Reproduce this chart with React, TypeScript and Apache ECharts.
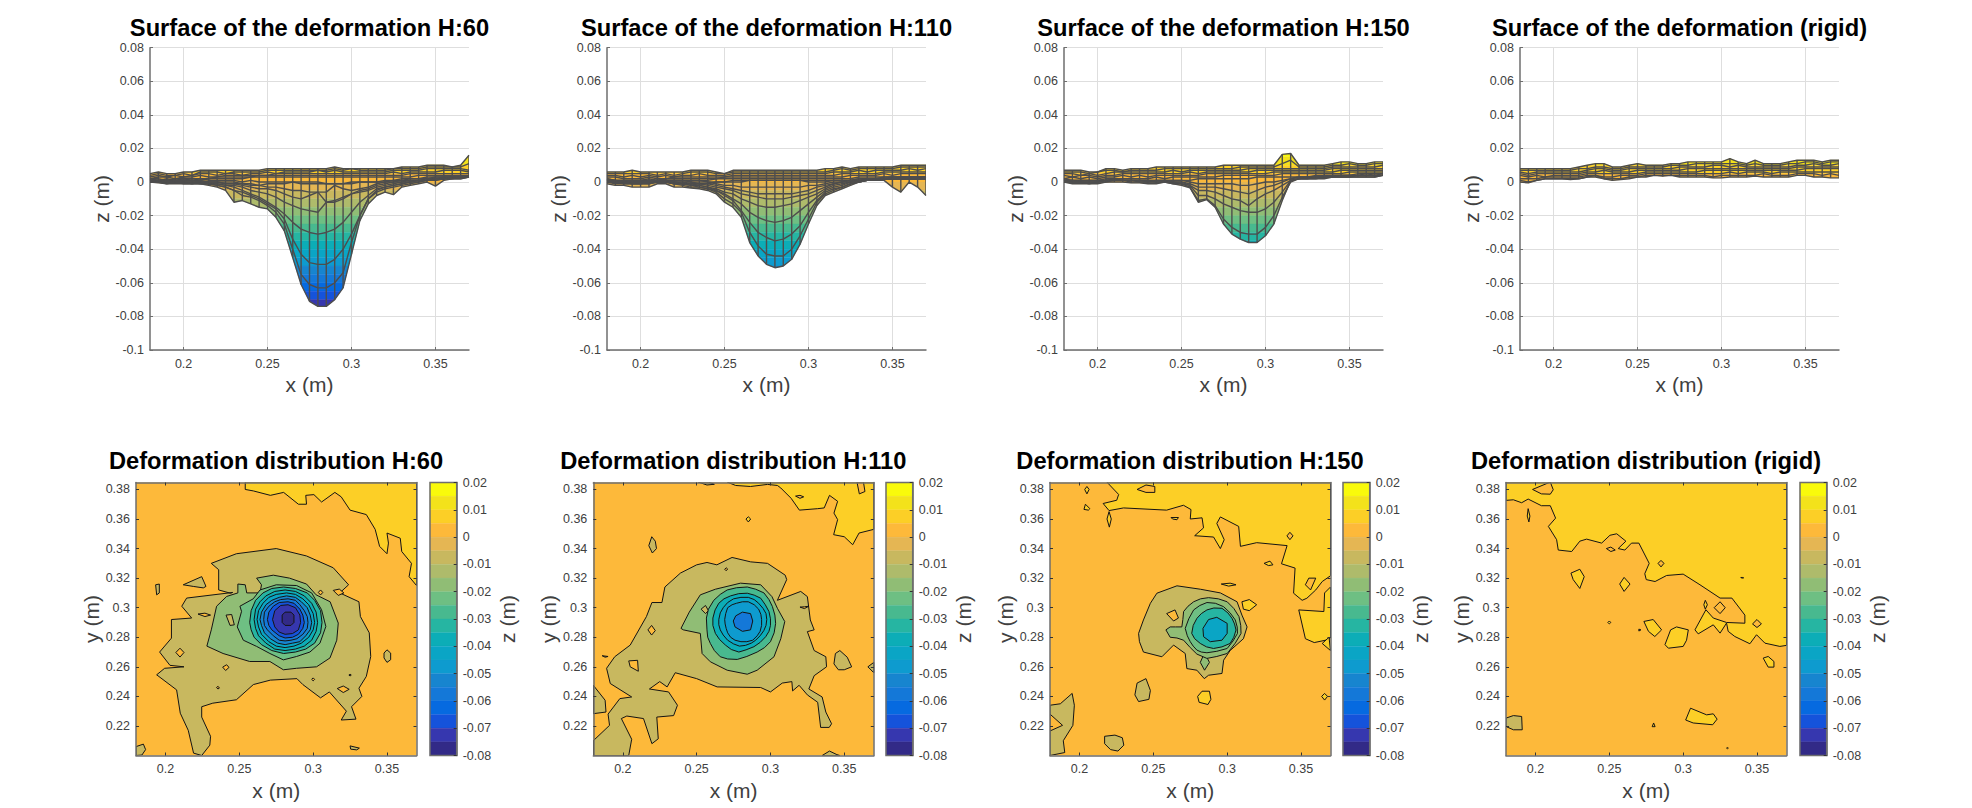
import React, { useEffect, useRef } from "react";
import * as echarts from "echarts";

// x positions of the measured mesh, millimetres
const xGridMm = [180,185,190,195,200,205,210,215,220,225,230,235,240,245,250,255,260,265,270,275,280,285,290,295,300,305,310,315,320,325,330,335,340,345,350,355,360,365,370];

// 20 colour bands of the colour bar, from +0.02 (top) down to -0.08 (bottom)
const bandColors = ["#F9FA0B","#F3E21B","#FCCF26","#FDB93A","#E5B653","#C8B85F","#AEBB6B","#90BD75","#6EBF83","#48B98F","#26B5A2","#0CADB7","#0AA5C5","#0E9BCF","#1785CF","#1478D8","#066AE0","#1553DB","#3637AF","#322A87"];
const bandStepsMm = [20,15,10,5,0,-5,-10,-15,-20,-25,-30,-35,-40,-45,-50,-55,-60,-65,-70,-75,-80];

const surfaceTitles = ["Surface of the deformation H:60","Surface of the deformation H:110","Surface of the deformation H:150","Surface of the deformation (rigid)"];
const contourTitles = ["Deformation distribution H:60","Deformation distribution H:110","Deformation distribution H:150","Deformation distribution (rigid)"];
const xTicks = [0.2,0.25,0.3,0.35];
const yTicks = [0.22,0.24,0.26,0.28,0.3,0.32,0.34,0.36,0.38];

// surface profiles: z in mm at each xGridMm, one list per mesh row
const surfaceH60 = [
[5,6,5,5,6,6,7,7,7,7,7,7,7,7,8,8,8,8,8,8,8,8,9,8,8,8,8,8,8,8,9,9,9,10,10,10,9,10,16],
[4,5,4,4,5,4,6,6,6,5,6,6,6,6,7,7,7,7,7,7,7,7,8,7,8,7,7,7,7,8,8,8,8,9,9,9,9,9,11],
[3,4,3,4,3,4,5,5,4,5,5,4,5,5,6,5,6,6,6,6,7,6,7,6,6,6,6,6,6,7,7,7,7,8,8,8,8,8,7],
[2,3,3,2,3,3,4,3,3,4,4,4,4,4,4,5,5,5,5,5,5,5,5,5,5,5,5,5,5,6,5,6,6,6,6,7,7,7,6],
[2,2,1,2,2,2,2,2,3,3,3,3,3,4,4,4,4,4,4,4,4,4,4,4,4,4,4,4,4,4,4,5,5,5,5,5,5,5,5],
[1,1,1,1,1,1,1,2,2,2,2,2,3,3,3,3,3,3,3,3,3,3,3,3,3,3,3,3,3,3,3,3,4,4,4,4,4,4,4],
[0,0,0,0,-1,-1,0,0,0,-1,-1,-1,-2,-2,-1,-1,-1,0,0,0,0,-1,-1,-1,0,0,0,0,0,1,2,2,2,3,3,3,3,3,3],
[2,1,2,1,2,1,2,1,1,1,1,0,1,0,0,0,0,0,-1,-1,-1,-1,-1,-1,-1,0,0,0,1,1,1,2,2,2,3,3,3,3,4],
[1,1,1,1,1,1,1,0,0,0,0,-1,-1,-2,-3,-3,-4,-5,-5,-6,-6,-6,-2,-4,-5,-4,-3,-1,0,0,1,1,1,2,2,3,3,3,4],
[1,1,1,1,1,1,0,0,0,-1,-1,-2,-3,-4,-4,-5,-7,-9,-10,-8,-6,-12,-12,-10,-7,-5,-4,-2,-1,0,0,1,1,1,2,2,3,3,3],
[1,0,1,0,0,0,0,-1,-1,-2,-2,-3,-5,-6,-7,-9,-12,-14,-16,-17,-18,-12,-11,-9,-7,-6,-5,-3,-2,-1,0,0,1,1,2,2,3,3,3],
[0,0,0,0,0,0,0,-1,-1,-2,-3,-5,-7,-9,-12,-15,-19,-24,-28,-30,-31,-30,-28,-24,-18,-12,-8,-4,-3,-2,-1,0,1,1,2,2,3,3,3],
[0,0,0,0,0,0,-1,-1,-2,-3,-5,-6,-8,-10,-13,-16,-22,-34,-43,-48,-49,-49,-46,-40,-31,-20,-10,-5,-3,-2,-1,0,0,1,1,2,2,3,3],
[0,0,-1,0,0,-1,-1,-1,-2,-3,-5,-8,-9,-11,-14,-18,-25,-40,-55,-61,-63,-63,-60,-54,-36,-20,-10,-6,-4,-3,-2,-1,0,1,1,2,2,2,3],
[0,-0.5,-1,-1,-1,-1,-1,-2,-3,-5,-12,-11,-13,-15,-16,-21,-29,-45,-61,-71,-74,-74,-70,-63,-43,-23,-13,-8,-6,-7.5,-3,-2,-1,0,-2.4,1,2,2,3],
];
const surfaceH110 = [
[6,6,6,7,6,6,6,6,6,6,7,7,7,6,5,7,7,7,7,7,7,7,7,7,7,7,8,8,9,8,9,9,9,9,9,10,10,10,10],
[5,5,5,5,5,5,4,5,4,5,6,6,6,5,5,6,6,6,6,6,6,6,6,6,6,6,6,7,8,7,8,8,8,8,8,9,9,9,9],
[4,4,3,4,3,4,3,4,3,4,4,5,4,4,4,5,5,5,5,5,5,5,5,5,5,5,5,6,6,6,7,6,7,7,7,7,8,7,8],
[3,3,2,2,2,3,2,2,3,3,3,3,3,3,3,4,4,4,4,4,4,4,4,4,4,4,4,4,5,5,5,5,5,6,6,6,6,6,6],
[2,1,1,1,1,2,1,2,2,2,2,2,2,2,3,3,3,3,3,3,3,3,3,3,3,3,3,3,3,4,4,4,4,5,4,5,5,5,5],
[1,0,0,0,0,0,1,1,1,1,1,1,1,2,2,2,2,2,2,2,2,2,2,2,2,2,2,2,2,2,3,3,3,3,3,3,3,3,3],
[0,-1,-1,-1,-1,0,0,0,0,-1,-1,-1,-1,0,0,1,1,1,1,1,1,1,1,1,1,1,1,1,1,1,2,2,2,2,2,2,2,2,2],
[2,1,1,1,1,1,1,1,1,1,1,1,0,0,0,0,0,1,1,1,1,1,1,1,0,0,0,1,1,1,2,2,2,3,3,3,3,3,3],
[1,1,1,1,1,1,1,1,1,1,0,0,0,-1,-2,-2,-3,-3,-3,-3,-3,-3,-3,-3,-2,-2,-1,0,0,1,1,2,2,2,3,3,3,3,3],
[1,1,0,0,0,1,1,1,0,0,0,-1,-1,-2,-3,-4,-5,-6,-7,-7,-7,-7,-7,-6,-5,-3,-2,-1,0,1,1,1,2,2,2,3,3,3,3],
[1,0,0,0,0,0,0,0,0,0,-1,-1,-2,-3,-4,-5,-7,-8,-9,-10,-10,-10,-9,-8,-7,-5,-3,-1,0,0,1,1,2,2,2,2,2,2,3],
[0,0,0,0,0,0,0,0,0,-1,-1,-2,-3,-4,-6,-7,-10,-12,-14,-15,-15,-14,-13,-11,-9,-7,-4,-2,-1,0,1,1,2,2,2,2,2,2,2],
[0,0,0,0,0,0,0,0,-1,-1,-2,-2,-3,-5,-7,-10,-13,-18,-21,-23,-24,-23,-21,-17,-13,-9,-5,-3,-2,0,0,1,1,2,2,2,2,2,2],
[0,0,0,-1,-1,-1,0,0,-1,-1,-2,-3,-4,-5,-8,-11,-17,-24,-30,-33,-35,-34,-31,-26,-18,-11,-6,-4,-3,-1,0,1,1,2,2,2,2,2,2],
[0,0,-1,-1,-1,-1,0,0,-1,-2,-3,-3,-4,-6,-10,-13,-18,-30,-38,-43,-44,-44,-40,-32,-22,-12,-7,-5,-3,-1,0,1,1,2,2,2,2,2,2],
[-1,-2,-2,-3,-3,-3,-1,-1,-3,-3,-3.5,-4,-5,-7,-12,-15,-21,-36,-44,-49,-51,-50,-46,-37,-25,-14,-8,-6,-4,-2,0,1,1,1,-3,-6,0,-3,-8],
];
const surfaceH150 = [
[7,7,7,6,6,8,8,7,8,8,8,9,9,9,9,9,9,9,9,10,10,10,10,10,10,10,16.5,17,10,10,10,10,11,12,12,11,11,12,12],
[6,6,6,5,6,7,7,6,7,7,7,7,8,8,8,8,8,8,8,8,8,9,9,9,9,9,11,13,9,9,9,9,10,10,11,10,10,11,11],
[5,5,4,5,4,5,6,6,6,6,6,6,6,7,6,7,7,7,7,7,7,7,8,8,8,8,8,8,8,8,8,8,9,9,9,9,9,9,10],
[4,3,4,4,3,4,4,5,5,5,5,5,5,5,5,6,5,6,6,6,6,6,6,7,7,7,7,7,7,7,7,7,8,8,8,8,8,8,8],
[2,3,2,3,2,3,3,4,3,4,3,4,4,4,4,4,4,5,5,5,5,5,5,5,5,6,6,6,6,6,6,6,6,7,7,7,7,7,7],
[1,1,1,1,1,2,2,2,2,2,2,3,2,3,3,3,3,3,3,4,4,4,4,4,4,4,5,5,5,5,5,5,5,5,6,6,6,6,6],
[0,0,0,-1,0,1,1,1,1,1,0,1,1,1,1,1,2,2,2,2,2,2,2,3,3,3,3,3,3,3,4,4,4,4,4,4,5,5,5],
[2,1,1,1,1,1,2,1,1,1,1,1,1,1,1,0,-1,-1,-1,-1,-1,-2,-2,-1,0,0,1,2,3,3,3,4,4,4,4,5,5,5,5],
[1,1,1,1,1,1,1,1,1,1,1,1,1,0,0,-1,-3,-3,-3,-4,-5,-6,-7,-5,-3,-2,0,2,3,3,3,3,4,4,4,4,4,5,5],
[1,1,0,0,0,1,1,1,1,1,1,0,0,0,0,-2,-5,-5,-6,-8,-10,-11,-14,-10,-7,-5,-2,1,2,3,3,3,3,4,4,4,4,4,5],
[1,0,0,0,0,1,1,1,1,0,0,0,0,0,-1,-2,-8,-8,-10,-13,-15,-17,-18,-18,-16,-12,-6,1,2,2,3,3,3,3,3,4,4,4,4],
[0,0,0,0,0,0,1,1,0,0,0,0,0,-1,-1,-3,-11,-10,-14,-22,-27,-30,-31,-31,-27,-20,-9,0,2,2,2,3,3,3,3,3,3,3,4],
[0,-1,-1,-1,-1,0,0,0,-0.5,-0.5,-1,-1,0,-1,-2,-3.4,-12,-10.5,-15,-25,-31,-34,-36,-36,-32,-25,-11,1,2,2,2,2,3,3,3,3,3,3,4],
];
const surfaceRigid = [
[8,8,8,8,8,8,8,9,10,11,11,9,9,10,11,10,10,10,11,11,12,12,12,12,12,14,12,11,13,11,11,11,12,13,13,13,12,13,13],
[7,7,7,7,7,7,7,8,8,9,9,8,8,9,9,9,9,9,10,10,10,11,11,11,11,11,11,10,11,10,10,10,11,11,12,12,11,12,12],
[6,5,6,6,6,6,6,6,7,8,8,7,7,8,8,8,8,8,8,9,9,9,9,10,10,9,10,9,9,9,9,9,9,10,10,11,10,10,11],
[5,4,5,5,5,5,5,5,6,6,7,6,6,6,7,7,7,7,7,7,8,8,8,8,8,8,8,8,8,8,8,8,8,9,9,9,9,9,9],
[4,3,4,3,4,4,4,4,5,5,5,5,5,5,5,6,6,6,6,6,6,6,7,7,7,7,7,7,7,7,7,7,7,7,8,8,8,8,8],
[2,2,2,3,3,3,3,3,4,4,3,3,4,4,4,5,5,5,5,5,5,5,5,5,5,6,5,6,6,6,5,6,6,6,6,6,6,6,6],
[1,0,1,2,2,2,2,2,3,3,2,2,2,3,3,4,4,4,4,4,4,4,4,3,4,4,4,4,4,5,4,4,4,5,5,5,4,5,4],
[0,-0.5,1,2,2,2,1.5,2,3,4,2,1,1.5,2,3,3,4,3.5,4,3,3,3,3,2.5,2.5,3,3,3,3.5,3,3,3,3,4,4,3,3,2.5,2.5],
];

// contour regions: [index into bandColors, outline as [x mm, y mm] pairs]
const contoursH60: any[] = [
[2,[[254,385],[254,380],[259.5,379],[271,376],[280,378],[290,370],[295.5,370],[295,376],[300.5,376.5],[305.7,371.5],[314.7,378],[319,375],[325,366],[336,363],[342,353],[345,341.5],[350,336.5],[351,343.7],[350,350.5],[359,347],[360,338],[366.6,330],[365,321],[370,315],[370,385]]],
[5,[[212,315.5],[224.5,321],[227.4,314.4],[225.6,313.4],[218.8,314.4]]],
[5,[[193.3,315.5],[195.8,316],[195.8,310],[194,308.7]]],
[5,[[350,271.5],[352.5,269.3],[352.5,264.8],[350,263],[348,266],[348,269.3]]],
[5,[[325,206.5],[331.3,205],[329.5,203.8],[325.4,204.3]]],
[5,[[180,206],[185,207.7],[186.5,204],[184,200.3],[180,200]]],
[5,[[231,330],[248,336.5],[275,340],[295.5,335],[313.6,327],[324,315.5],[318,310],[331,304],[332,294],[338,283],[339,267],[336,253.5],[331,245.5],[333,240],[326,233],[329,224.6],[319,224],[322.5,230],[311,243],[305,239],[293,248],[289,252],[271,251],[259.5,248],[248,237.7],[232,235.4],[224.5,233],[224.5,226],[230.5,213],[230,207],[224.5,200],[219,201.6],[215.4,217],[210,228.6],[207.5,244.4],[194,254.6],[199.4,259],[212.5,260],[203,261],[196,270],[204,279.4],[204,292],[217.7,293],[211,301],[214.3,306.5],[245.5,310.3],[244,309.8],[236,312],[236,325.7]]],
[3,[[209.8,272.6],[212.5,269.7],[209.8,266.6],[207,269.7]]],
[3,[[238.7,259.8],[241.4,261.4],[243,259.6],[240.7,257.5]]],
[3,[[234.5,246],[235.6,246.8],[236.5,245.6],[235.5,245]]],
[3,[[316.3,245.3],[320.4,247],[324.4,244.8],[320.4,242.6]]],
[3,[[300,252.5],[301,251.5],[300,250.5],[299,251.5]]],
[3,[[325,255],[325.8,254.4],[325,253.8],[324.2,254.4]]],
[3,[[303.5,310.3],[305,312],[306.5,310.3],[305,308.6]]],
[3,[[313.6,311.7],[317.7,312.6],[320.8,310],[317,308.3]]],
[3,[[222,295.7],[226.7,296.3],[230.5,295],[226.7,294]]],
[7,[[261.7,320],[273,322],[284,320],[295.5,316],[302,308.7],[311.5,304],[317,289.6],[316,278],[311.4,266],[302.3,260],[288.8,259],[279.8,258],[270.7,263.6],[257,263.6],[239,269],[228,274],[231,285],[234.6,301],[241.4,307.6],[249,310],[249,316],[254,315.5],[255,310],[264,310],[265,315.5]]],
[5,[[241,295],[244.8,295.4],[246.6,288.4],[243.7,288]]],
[8,[[248.6,287],[251.5,297.5],[250.4,301],[259.4,306],[264,312],[275,315.5],[288.8,315],[299,310],[305.7,298.6],[308.6,287.3],[304.6,276],[297.8,270],[288.8,267],[279.8,264.7],[270.7,269],[261.7,273.8],[252.7,278]]],
[10,[[257,290],[258,298],[261,305],[266,310],[272,313],[280,314],[288,313],[296,310],[301,305],[305,298],[306,290],[305,283],[301,276],[295,272],[288,270],[280,269],[272,271],[265,275],[260,280],[258,285]]],
[11,[[260,292],[261,299],[264,304],[268,308],[274,311],[281,312],[288,311],[294,308],[299,303],[302,297],[303,290],[302,284],[299,278],[294,274],[288,272],[281,271],[274,272],[268,276],[263,281],[261,286]]],
[12,[[262,292],[263,298],[266,303],[270,307],[275,309],[282,310],[288,309],[293,306],[297,302],[300,296],[301,290],[300,285],[297,280],[292,276],[287,274],[281,273],[275,274],[270,277],[265,282],[263,287]]],
[14,[[264,292],[265,297],[268,302],[272,305],[277,307],[282,308],[288,307],[292,304],[296,300],[298,295],[299,290],[298,285],[295,281],[291,277],[286,276],[281,275],[276,276],[271,279],[267,283],[265,288]]],
[15,[[266.5,292],[267,297],[270,301],[274,304],[278,305.5],[283,306],[288,305],[291,302],[294,298],[296,294],[296.5,290],[296,286],[293,282],[289,279],[285,278],[281,277.5],[277,278],[273,281],[269,285],[267,288]]],
[17,[[269,292],[270,297],[273,301],[277,303.5],[283,304],[287,303],[291,299],[293,295],[294,290],[293,286],[290,282],[286,280],[281,279.5],[277,281],[272,285],[270,288]]],
[18,[[272.5,292],[274,298],[278,301.5],[283,302],[288,300],[291,295],[291.5,290],[290,285],[286,282.5],[281,282],[277,283.5],[274,287]]],
[19,[[279,295],[281,297],[285,297],[287,295],[287,290],[285,288],[281,288],[279,290]]],
];
const contoursH110: any[] = [
[2,[[270.7,385],[276.4,382.7],[286.5,382],[298,383.4],[304.7,382.7],[307,381],[314,374],[319.6,366],[332,367],[336.4,367.5],[340,376],[345.5,372],[343,364],[345.5,359.6],[342.8,349.4],[350,348],[355.7,342.6],[360,350.5],[370,353],[370,385]]],
[3,[[358.6,385],[360.2,377],[364,378.6],[363,385]]],
[3,[[317,375.5],[320,376],[322.5,375],[320,374]]],
[5,[[251,385],[257,383],[262,383.5],[258,385]]],
[2,[[285,361.5],[286.6,360],[285,358],[283.4,360]]],
[5,[[219.6,348],[222,345],[222.8,340],[220,337],[217.6,342]]],
[5,[[186,267.5],[190,267],[188,266.5]]],
[5,[[180,247.5],[188,237.4],[188.6,229.4],[180,228.3]]],
[5,[[344,269],[347,271],[352,266.5],[355,260],[350,258],[346,258],[343,262]]],
[5,[[370,263],[366,260],[370,256]]],
[5,[[335,200],[340,203],[345,200.6],[347,200]]],
[5,[[189,259],[194.5,266.8],[205,274.7],[216,294],[219.7,303.5],[226.5,303.5],[228.5,314],[239,323.4],[250,329],[257,330.6],[263.7,329],[274,334],[286.6,331],[298,330],[310,322],[311,319],[304.7,305],[320.5,311],[325,307.5],[327,291.7],[329.6,285],[325,283.8],[329.6,271],[337.5,266.8],[338,260],[329.6,254],[326,245],[335,239.6],[337.5,229.4],[341.4,221.5],[339.8,219],[334,219],[332,236],[325,241],[319.4,247.5],[315,243.7],[314.5,250],[308,249],[300,243],[293.4,246],[263.9,246.4],[250,252],[235.5,256],[230,246.4],[225,250],[218,245],[231,243],[237,234],[234.4,227],[223,226],[224,211.3],[219.7,208],[214,225],[202.7,226.7],[199,225],[206,211],[204,200],[180,200],[180,210],[191,220.4],[190,228],[198,238.5],[206,239.6],[191.5,248.7]]],
[3,[[204,264],[210,264.4],[210.5,257],[205,260]]],
[3,[[219.5,288],[222,284.5],[219.5,281.5],[217,285]]],
[3,[[270,327],[271,326.2],[270,325],[269,326]]],
[3,[[320,300.4],[323,300.6],[326,301],[323,299.4]]],
[7,[[239.4,286],[245,297],[252.5,308.7],[262.7,312.5],[279.7,316.6],[293.4,315.5],[301,307.5],[304.7,299.6],[309.7,290.6],[307,279],[302.4,266.8],[291,257.7],[284.3,255],[270.7,257.7],[259.3,263.4],[253.7,269],[252.5,282.6],[241,285]]],
[5,[[253,299],[256,301.5],[258,298],[256,296]]],
[9,[[256.6,293],[258,299],[261.6,305],[266,309],[270.7,312],[277,313.5],[284.3,314],[290,312.5],[295.6,310],[299,305.5],[301.3,300.8],[303,295],[303.5,289.4],[302.5,283],[300,277],[296,273],[291,270],[284,267],[277.5,265],[271,265.3],[266,266.8],[262,271],[259.3,275.8],[257.5,280],[257,285]]],
[11,[[261,293],[262.5,298.5],[265,303],[268.5,306],[273,308],[278.5,309.5],[284.3,309.8],[289,308.5],[293.4,306.4],[296.5,302],[299,297.4],[300,292.5],[300,288],[299,284],[296.8,280.4],[293,276.5],[288.8,273.6],[283.5,271.5],[278.6,270],[273.5,271.7],[269.5,274.7],[265.5,278.5],[262.7,282.6],[261,288]]],
[12,[[265,292],[266,296.5],[268,300],[271,303.5],[275,306],[280,307],[285,307],[289,305.5],[292,303],[295,299.5],[297,296],[297.5,292],[297,288],[295.5,284.5],[293,281],[290,278],[287,276],[283,274.5],[279,274],[275,275.5],[271,278],[268,281.5],[266,285],[265,288.5]]],
[13,[[269,292],[269.7,296],[271,300],[274,302],[277,303],[281,304],[285,304],[289,302],[292,299],[293.5,295.5],[294,292],[294,288],[293,284],[291,281],[288,278],[284,277],[280,277],[276,278],[273,280],[271,283],[270,286],[269.3,289]]],
[15,[[274.8,291],[276.5,294.5],[281,297],[286.5,296],[288,291],[286.5,285],[281,284],[276,287]]],
];
const contoursH150: any[] = [
[2,[[218.5,385],[226.5,376.6],[225.2,372.7],[216,370.5],[220,365.7],[229.8,367.5],[259,366],[270.4,369.3],[275.5,366.4],[275,360],[283,360.8],[284,354],[278,348.7],[290.8,347.8],[295.4,340],[298,346],[293,357],[295.4,361.4],[307.8,355],[309,341.5],[320,344],[340.6,342],[336.8,329.7],[346,326.8],[345,309.8],[350.8,305],[354,306.4],[360,312],[364.4,317.7],[370,321.6],[370,385]]],
[3,[[355.3,320],[360,320],[356.5,312],[353,315.5]]],
[3,[[239,380],[245,383],[251,382],[251,378],[245,378]]],
[3,[[342.5,351],[344.6,348.6],[342.5,346],[340.5,348.6]]],
[2,[[348.5,298.5],[365.5,297.4],[366,310],[370,314],[370,280],[369,278.5],[359,276.4],[353,279]]],
[2,[[364.4,275.8],[369,280],[370,271]]],
[2,[[205,382],[206.5,380],[205,377],[203.5,380]]],
[2,[[204,370],[207,367],[206,366],[203,366.5]]],
[2,[[220,365],[221.5,360],[220.2,354.5],[218.6,360]]],
[2,[[262,361],[267,361],[266,359.5],[263,360]]],
[2,[[325,330],[329,331.5],[331,329],[328,328.5]]],
[2,[[296,316],[302,316.6],[306,315.5],[301,314.6]]],
[2,[[310,304],[315,305.5],[320,302],[315,298],[311,299]]],
[2,[[280,240],[283,243.5],[288,243.5],[289,238],[287,234.5],[281,236]]],
[2,[[364,240],[366,242],[368,240],[366,237.5]]],
[5,[[237.5,241],[239,249],[245,252],[248,244],[247,238],[240,236.5]]],
[5,[[217,213],[224,213.8],[229,212],[230,207],[226,203],[221,204],[217,208]]],
[5,[[180,234],[187,235],[195,242],[196.5,234],[195.5,220.4],[189,210],[190,202],[180,200]]],
[3,[[180,228],[188.5,220.4],[180,216.6]]],
[5,[[240,282.6],[243.3,291.7],[248,303],[252.4,309.8],[266,314.8],[281.8,312.5],[295.4,310],[306.7,304],[310,295],[313.5,287],[311,279],[302,271],[297.6,264.5],[296.5,255.5],[287.4,254.3],[284.5,252],[279.5,257.7],[272.7,258.8],[271.6,269],[263.7,274.7],[255.8,266.8],[243.3,270],[240.6,277]]],
[3,[[259,296],[264.7,298.5],[267,293],[263.7,291]]],
[7,[[284.7,269.5],[288,263],[284.7,257.7],[281.8,263]]],
[7,[[258.5,285],[261.4,287],[265,287],[269.3,287],[270,292],[270.5,297.4],[273.5,301],[277.3,304],[282,306],[287.4,306.8],[294,306],[300,304],[304.5,299.5],[308,294],[309.2,288],[309.4,282.6],[305.5,276],[300,269],[293,267],[286.3,265.7],[279.5,268.6],[275,273],[270.5,278],[266,279.5],[261.4,280]]],
[8,[[271.6,286],[274,292.5],[277.3,298.5],[281.5,301.5],[286.3,303.5],[292,303],[297.6,300.7],[302,296.5],[305.5,291.7],[306.8,287],[307,282.6],[304,277.5],[300,272.4],[293,270.5],[286.3,269.5],[282.5,270],[279.5,271.3],[277,274],[275,277],[273,281]]],
[10,[[276,282.6],[277,288],[279.5,292.8],[282.5,296],[286.3,298.5],[291,299.8],[296.5,299.6],[300.5,296.5],[303.3,292.8],[305,289],[306,284.9],[304.5,280],[302,275.8],[296.5,273.5],[290.8,272.4],[286,273.5],[281.8,275.8],[278,279]]],
[12,[[283.6,286],[287.4,292],[293,293.5],[300,289.4],[300,282.6],[296.5,278],[288.6,277],[284,280.4]]],
];
const contoursRigid: any[] = [
[2,[[180,372.6],[185,373],[190.6,371],[195,373.5],[204,369],[210,369],[213.6,360.6],[208.7,355],[214.3,346],[215.4,339],[224.5,338],[230,345],[234.6,346.4],[244.8,343.7],[250.4,349],[255,350],[261.2,345],[256,340],[260.5,339],[265,343.7],[270,343.7],[277,330],[274,323],[275,319],[281,317.7],[288.8,321.8],[300,322.7],[311.4,315.5],[325,306.5],[333,306.5],[341.8,295],[341.8,289.5],[329.4,290],[320.4,293],[315.4,298.6],[308,285],[310.2,282.3],[320.4,288.4],[325,282.8],[329.4,289.6],[330.5,284],[335,280.5],[345.2,275.6],[349.7,281.7],[355.4,276],[365.5,273.8],[370,274.5],[370,385],[180,385]]],
[3,[[198,380],[210,385],[212,379.8],[210,376.8],[204,377]]],
[3,[[285,332],[287,330],[285,327.6],[283,330]]],
[3,[[325,304],[328.5,300],[325,296],[321,300]]],
[3,[[350,292],[353,289],[350,286.6],[347,289]]],
[3,[[248,340],[251,341],[254,339],[251,338]]],
[2,[[195,367],[196.2,362],[195.5,358],[194.4,362]]],
[2,[[224,323.4],[230,326],[233,321],[230,313],[225.5,319]]],
[2,[[260,320.5],[264,316],[260,311],[257,316]]],
[2,[[315,305],[316.4,302],[315,299],[314,302]]],
[2,[[273.4,290.7],[279.7,292],[285.4,285],[280.8,280.5],[276.5,284]]],
[2,[[287.7,275],[291.5,285],[295.5,287],[303.5,285],[302.3,278],[300,273.8],[290,272.6]]],
[2,[[354.2,265.9],[357.6,267],[361.5,263.6],[361.5,259.8],[357.6,259.8]]],
[2,[[301.7,224],[305,232],[315.9,227.5],[320.4,228.2],[323,224.6],[320,220.8],[306.8,222]]],
[5,[[180,225.3],[185,227],[190.6,226.4],[191,217.4],[185,217.4],[180,219.6]]],
[2,[[250,291],[251,290],[250,289],[249,290]]],
[2,[[270,285.5],[271.4,285],[270,284.2]]],
[2,[[280,222],[281,219.5],[279,219.5]]],
[2,[[330,205.4],[330.6,205],[330,204.6],[329.4,205]]],
[2,[[339,320.4],[340,320.5],[341,320.2],[340,320]]],
];

const surfaces = [surfaceH60, surfaceH110, surfaceH150, surfaceRigid];
const contours = [contoursH60, contoursH110, contoursH150, contoursRigid];

const surfaceLeft = [150, 607, 1064, 1520];
const contourLeft = [136, 593.3, 1050, 1506];
const barLeft = [430, 886, 1343, 1800];

const FONT = "Liberation Sans";
const labelColor = "#404040";
const axisGray = "#6e6e6e";
const meshColor = "#4d4d4d";
const meshWidth = 1.4;
const fmt = (v: any) => String(+(+v).toFixed(3));

function clipBand(poly: number[][], lo: number, hi: number) {
  const clip = (pts: number[][], limit: number, keepAbove: boolean) => {
    const out: number[][] = [];
    const inside = (p: number[]) => (keepAbove ? p[1] >= limit : p[1] <= limit);
    for (let i = 0; i < pts.length; i++) {
      const a = pts[i], b = pts[(i + 1) % pts.length];
      if (inside(a)) out.push(a);
      if (inside(a) !== inside(b)) {
        const t = (limit - a[1]) / (b[1] - a[1]);
        out.push([a[0] + t * (b[0] - a[0]), limit]);
      }
    }
    return out;
  };
  const first = clip(poly, lo, true);
  return first.length ? clip(first, hi, false) : [];
}

function buildOption() {
  const grid: any[] = [], xAxis: any[] = [], yAxis: any[] = [], series: any[] = [], title: any[] = [];
  const axisText = { color: labelColor, fontFamily: FONT, fontSize: 12.5 };
  const nameText = { color: labelColor, fontFamily: FONT, fontSize: 21 };
  const titleText = { fontFamily: FONT, fontWeight: "bold", fontSize: 23.7, color: "#000" };

  surfaces.forEach((rows, p) => {
    const g = grid.length;
    grid.push({ left: surfaceLeft[p], top: 47.7, width: 319, height: 302.3 });
    title.push({ text: surfaceTitles[p], left: surfaceLeft[p] + 159.5, top: 16, padding: 0, textAlign: "center", textStyle: titleText });
    const splitLine = { show: true, lineStyle: { color: "#dedede", width: 1 } };
    xAxis.push({ gridIndex: g, type: "value", min: 0.18, max: 0.37, name: "x (m)", nameLocation: "middle", nameGap: 24, nameTextStyle: nameText,
      axisLine: { show: true, onZero: false, lineStyle: { color: axisGray, width: 1.5 } },
      axisTick: { show: true, inside: true, length: 3, customValues: xTicks, lineStyle: { color: axisGray } },
      axisLabel: { ...axisText, margin: 7, customValues: xTicks, formatter: fmt },
      splitLine });
    yAxis.push({ gridIndex: g, type: "value", min: -0.1, max: 0.08, interval: 0.02, name: "z (m)", nameLocation: "middle", nameGap: 37, nameTextStyle: nameText,
      axisLine: { show: true, onZero: false, lineStyle: { color: axisGray, width: 1.5 } },
      axisTick: { show: true, inside: true, length: 3, lineStyle: { color: axisGray } },
      axisLabel: { ...axisText, margin: 6, formatter: fmt },
      splitLine });
    const ax = xAxis.length - 1, ay = yAxis.length - 1;
    const low = xGridMm.map((_, i) => Math.min(...rows.map((r) => r[i])));
    const high = xGridMm.map((_, i) => Math.max(...rows.map((r) => r[i])));
    series.push({ type: "custom", xAxisIndex: ax, yAxisIndex: ay, silent: true, clip: true,
      data: xGridMm.slice(0, -1).map((x, i) => [x / 1000, low[i] / 1000]),
      renderItem: (params: any, api: any) => {
        const i = params.dataIndex;
        const quad = [[xGridMm[i], low[i]], [xGridMm[i + 1], low[i + 1]], [xGridMm[i + 1], high[i + 1]], [xGridMm[i], high[i]]];
        const children: any[] = [];
        bandColors.forEach((c, k) => {
          const pts = clipBand(quad, bandStepsMm[k + 1], bandStepsMm[k]);
          if (pts.length > 2) children.push({ type: "polygon", shape: { points: pts.map((q) => api.coord([q[0] / 1000, q[1] / 1000])) }, style: { fill: c, stroke: c, lineWidth: 0.4 } });
        });
        return { type: "group", children };
      } });
    series.push({ type: "custom", xAxisIndex: ax, yAxisIndex: ay, silent: true, clip: true,
      data: xGridMm.map((x, i) => [x / 1000, low[i] / 1000, high[i] / 1000]),
      renderItem: (_: any, api: any) => {
        const a = api.coord([api.value(0), api.value(1)]), b = api.coord([api.value(0), api.value(2)]);
        return { type: "line", shape: { x1: a[0], y1: a[1], x2: b[0], y2: b[1] }, style: { stroke: meshColor, lineWidth: meshWidth } };
      } });
    rows.forEach((r) => series.push({ type: "line", xAxisIndex: ax, yAxisIndex: ay, silent: true, symbol: "none",
      data: r.map((z, i) => [xGridMm[i] / 1000, z / 1000]), lineStyle: { color: meshColor, width: meshWidth } }));
  });

  contours.forEach((rings, p) => {
    const g = grid.length;
    grid.push({ left: contourLeft[p], top: 482.5, width: 280.5, height: 273, show: true, backgroundColor: bandColors[3], borderWidth: 0 });
    title.push({ text: contourTitles[p], left: contourLeft[p] + 140, top: 449, padding: 0, textAlign: "center", textStyle: titleText });
    const line = { show: true, onZero: false, lineStyle: { color: axisGray, width: 1.5 } };
    const tick = (values?: number[]) => ({ show: true, inside: true, length: 3, lineStyle: { color: "#333" }, ...(values ? { customValues: values } : {}) });
    xAxis.push({ gridIndex: g, type: "value", z: 5, min: 0.18, max: 0.37, name: "x (m)", nameLocation: "middle", nameGap: 24, nameTextStyle: nameText,
      axisLine: line, axisTick: tick(xTicks), axisLabel: { ...axisText, margin: 7, customValues: xTicks, formatter: fmt }, splitLine: { show: false } });
    const ax = xAxis.length - 1;
    xAxis.push({ gridIndex: g, type: "value", z: 5, position: "top", min: 0.18, max: 0.37,
      axisLine: line, axisTick: tick(xTicks), axisLabel: { show: false }, splitLine: { show: false } });
    yAxis.push({ gridIndex: g, type: "value", z: 5, min: 0.2, max: 0.3847, name: "y (m)", nameLocation: "middle", nameGap: 33, nameTextStyle: nameText,
      axisLine: line, axisTick: tick(yTicks), axisLabel: { ...axisText, margin: 6, customValues: yTicks, formatter: fmt }, splitLine: { show: false } });
    const ay = yAxis.length - 1;
    yAxis.push({ gridIndex: g, type: "value", z: 5, position: "right", min: 0.2, max: 0.3847,
      axisLine: line, axisTick: tick(yTicks), axisLabel: { show: false }, splitLine: { show: false } });
    series.push({ type: "custom", xAxisIndex: ax, yAxisIndex: ay, silent: true, clip: true,
      data: rings.map((r: any) => [r[1][0][0] / 1000, r[1][0][1] / 1000]),
      renderItem: (params: any, api: any) => {
        const [band, pts] = rings[params.dataIndex];
        return { type: "polygon", shape: { points: pts.map((q: number[]) => api.coord([q[0] / 1000, q[1] / 1000])) },
          style: { fill: bandColors[band], stroke: "#141414", lineWidth: 1 } };
      } });

    const gb = grid.length;
    grid.push({ left: barLeft[p], top: 482.5, width: 26.7, height: 273 });
    xAxis.push({ gridIndex: gb, type: "value", show: false, min: 0, max: 1 });
    yAxis.push({ gridIndex: gb, type: "value", z: 5, position: "right", min: -0.08, max: 0.02, interval: 0.01, name: "z (m)", nameLocation: "middle", nameGap: 40, nameTextStyle: nameText,
      axisLine: line, axisTick: { show: true, inside: true, length: 3, lineStyle: { color: "#333" } },
      axisLabel: { ...axisText, margin: 6, formatter: fmt }, splitLine: { show: false } });
    const bx = xAxis.length - 1, by = yAxis.length - 1;
    series.push({ type: "custom", xAxisIndex: bx, yAxisIndex: by, silent: true,
      data: bandColors.map((_, k) => [0, bandStepsMm[k + 1] / 1000, bandStepsMm[k] / 1000]),
      renderItem: (params: any, api: any) => {
        const a = api.coord([0, api.value(2)]), b = api.coord([1, api.value(1)]);
        const c = bandColors[params.dataIndex];
        return { type: "rect", shape: { x: a[0], y: a[1], width: b[0] - a[0], height: b[1] - a[1] }, style: { fill: c, stroke: c, lineWidth: 0.3 } };
      } });
    series.push({ type: "custom", xAxisIndex: bx, yAxisIndex: by, silent: true, z: 4,
      data: [[0, -0.08, 0.02]],
      renderItem: (_: any, api: any) => {
        const a = api.coord([0, api.value(2)]), b = api.coord([1, api.value(1)]);
        return { type: "rect", shape: { x: a[0], y: a[1], width: b[0] - a[0], height: b[1] - a[1] }, style: { fill: "none", stroke: axisGray, lineWidth: 1.5 } };
      } });
  });

  return { animation: false, backgroundColor: "#ffffff", title, grid, xAxis, yAxis, series };
}

export default function App() {
  const ref = useRef<HTMLDivElement>(null);
  useEffect(() => {
    const chart = echarts.init(ref.current!, undefined, { renderer: "svg" });
    chart.setOption(buildOption() as any);
    return () => chart.dispose();
  }, []);
  return <div ref={ref} style={{ position: "absolute", left: 0, top: 0, width: 1972, height: 808 }} />;
}
